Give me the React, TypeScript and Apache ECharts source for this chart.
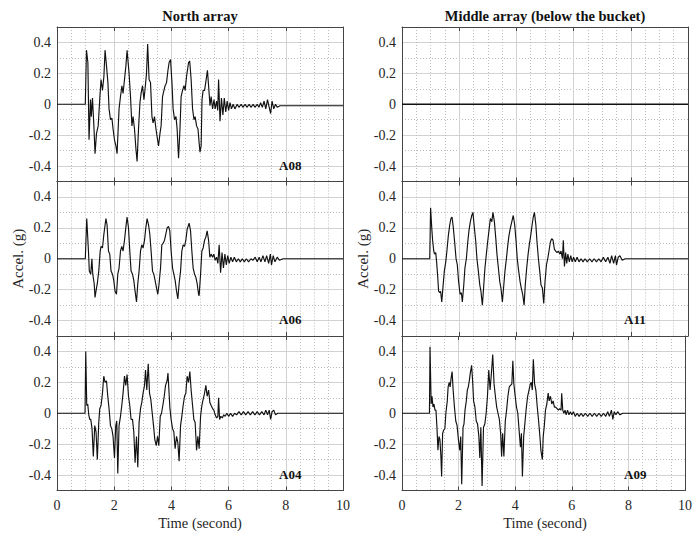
import { useEffect, useRef } from 'react';
import * as echarts from 'echarts';

const FONT = '"Liberation Serif", "Times New Roman", serif';

const columnTitles = ['North array', 'Middle array (below the bucket)'];
const xAxisTitle = 'Time (second)';
const yAxisTitle = 'Accel. (g)';

// top-right panel (no signal)
const MID_TOP: number[][] = [[0, 0], [10, 0]];

const A08: number[][] = [
  [0, 0], [0.99, 0], [1.03, 0.35], [1.08, 0.27], [1.12, -0.23], [1.17, 0.03], [1.2, -0.08], [1.24, 0.04],
  [1.29, -0.14], [1.33, -0.32], [1.38, -0.19], [1.44, -0.14], [1.5, 0.05], [1.54, 0.16], [1.59, 0.09],
  [1.64, 0.18], [1.68, 0.35], [1.73, 0.25], [1.78, 0.14], [1.82, -0.03], [1.87, -0.1], [1.92, -0.09],
  [1.96, -0.16], [2.01, -0.23], [2.06, -0.27], [2.1, -0.32], [2.17, -0.03], [2.22, 0.05], [2.27, 0.12],
  [2.31, 0.07], [2.36, 0.16], [2.41, 0.25], [2.45, 0.35], [2.52, 0.2], [2.57, 0.05], [2.62, -0.14],
  [2.66, -0.08], [2.71, -0.16], [2.76, -0.29], [2.8, -0.37], [2.85, -0.16], [2.9, 0.01], [2.94, 0.07],
  [2.99, 0.12], [3.04, 0.03], [3.08, 0.1], [3.13, 0.2], [3.17, 0.39], [3.22, 0.16], [3.27, 0.14],
  [3.32, -0.08], [3.36, -0.12], [3.41, -0.08], [3.46, -0.16], [3.5, -0.21], [3.55, -0.27], [3.6, -0.19],
  [3.64, -0.14], [3.69, 0.05], [3.74, 0.09], [3.78, 0.12], [3.83, 0.14], [3.88, 0.22], [3.92, 0.27],
  [3.97, 0.29], [4.02, 0.14], [4.06, -0.03], [4.11, -0.1], [4.16, -0.08], [4.2, -0.16], [4.25, -0.35],
  [4.3, -0.16], [4.34, 0.05], [4.39, 0.09], [4.44, 0.12], [4.48, 0.09], [4.53, 0.18], [4.6, 0.27],
  [4.64, 0.28], [4.69, 0.16], [4.74, -0.03], [4.79, -0.1], [4.83, -0.08], [4.88, -0.14], [4.93, -0.16],
  [4.97, -0.25], [5.0, -0.31], [5.04, -0.27], [5.07, 0.03], [5.11, 0.09], [5.16, 0.09], [5.2, 0.14],
  [5.26, 0.22], [5.3, 0.12], [5.35, -0.01], [5.39, 0.05], [5.44, -0.03], [5.49, 0.03], [5.53, -0.03],
  [5.58, 0.02], [5.62, -0.04], [5.65, 0.16], [5.7, -0.11], [5.75, 0.04], [5.8, -0.07], [5.85, 0.04],
  [5.9, -0.05], [5.95, 0.02], [6.0, -0.04], [6.05, 0.01], [6.1, -0.03], [6.16, 0.0], [6.22, -0.03],
  [6.3, 0.0], [6.36, -0.02], [6.44, 0.0], [6.5, -0.02], [6.58, 0.0], [6.64, -0.02], [6.72, 0.0],
  [6.78, -0.02], [6.86, 0.0], [6.92, -0.02], [7.0, 0.0], [7.06, -0.02], [7.12, 0.01], [7.18, -0.02],
  [7.24, 0.02], [7.3, -0.03], [7.36, 0.03], [7.42, -0.02], [7.47, -0.06], [7.52, 0.02], [7.58, -0.03],
  [7.64, 0.0], [7.7, -0.02], [7.8, -0.01], [7.9, -0.01], [10, -0.01],
];

const A06: number[][] = [
  [0, 0], [0.99, 0], [1.04, 0.26], [1.1, 0.05], [1.13, -0.08], [1.18, -0.1], [1.22, 0.0], [1.25, -0.1],
  [1.3, -0.16], [1.33, -0.25], [1.38, -0.19], [1.41, -0.16], [1.46, -0.08], [1.51, 0.05], [1.54, 0.08],
  [1.59, 0.07], [1.64, 0.16], [1.71, 0.26], [1.75, 0.22], [1.8, 0.05], [1.845, 0.03], [1.89, -0.08],
  [1.94, -0.1], [1.985, -0.14], [2.03, -0.21], [2.08, -0.23], [2.125, -0.1], [2.17, -0.06], [2.22, 0.05],
  [2.265, 0.08], [2.31, 0.05], [2.36, 0.12], [2.405, 0.2], [2.45, 0.27], [2.5, 0.2], [2.545, 0.05],
  [2.59, -0.08], [2.64, -0.1], [2.685, -0.14], [2.73, -0.21], [2.78, -0.28], [2.825, -0.16], [2.87, -0.08],
  [2.92, 0.05], [2.965, 0.09], [3.01, 0.07], [3.06, 0.12], [3.105, 0.2], [3.15, 0.26], [3.2, 0.22],
  [3.245, 0.16], [3.29, 0.05], [3.34, -0.08], [3.385, -0.1], [3.43, -0.14], [3.48, -0.19], [3.525, -0.23],
  [3.57, -0.16], [3.62, -0.06], [3.665, 0.09], [3.71, 0.1], [3.76, 0.12], [3.805, 0.16], [3.85, 0.2],
  [3.9, 0.21], [3.945, 0.18], [3.99, 0.05], [4.04, -0.06], [4.085, -0.1], [4.13, -0.14], [4.18, -0.21],
  [4.225, -0.26], [4.27, -0.16], [4.32, -0.08], [4.365, 0.05], [4.41, 0.09], [4.46, 0.08], [4.505, 0.12],
  [4.55, 0.19], [4.62, 0.23], [4.67, 0.18], [4.715, 0.05], [4.76, -0.06], [4.81, -0.1], [4.855, -0.12],
  [4.9, -0.16], [4.95, -0.23], [4.97, -0.24], [5.02, -0.1], [5.065, 0.05], [5.11, 0.07], [5.16, 0.12],
  [5.205, 0.14], [5.25, 0.18], [5.3, 0.12], [5.345, 0.01], [5.39, 0.03], [5.44, 0.01], [5.485, 0.03],
  [5.53, -0.01], [5.58, 0.01], [5.625, -0.03], [5.67, 0.09], [5.72, -0.09], [5.77, 0.04], [5.82, -0.06],
  [5.87, 0.03], [5.92, -0.04], [5.97, 0.02], [6.02, -0.03], [6.08, 0.01], [6.14, -0.02], [6.2, 0.01],
  [6.27, -0.02], [6.34, 0.0], [6.41, -0.02], [6.48, 0.0], [6.55, -0.02], [6.62, 0.0], [6.7, -0.02],
  [6.78, 0.0], [6.85, -0.01], [6.93, 0.01], [7.0, -0.02], [7.07, 0.01], [7.13, -0.02], [7.2, 0.02],
  [7.27, -0.02], [7.33, 0.02], [7.4, -0.03], [7.46, 0.03], [7.5, -0.04], [7.56, 0.02], [7.62, -0.02],
  [7.7, 0.01], [7.78, -0.01], [7.9, 0], [10, 0],
];

const A04: number[][] = [
  [0, 0], [0.98, 0], [1.005, 0.4], [1.04, 0.05], [1.075, 0.06], [1.11, -0.01], [1.145, -0.04], [1.18, -0.04],
  [1.225, -0.1], [1.27, -0.28], [1.32, -0.08], [1.365, -0.12], [1.41, -0.3], [1.46, -0.06], [1.495, 0.03],
  [1.54, 0.05], [1.59, 0.13], [1.635, 0.24], [1.68, 0.2], [1.73, 0.21], [1.775, 0.11], [1.82, 0.03],
  [1.87, -0.08], [1.915, -0.1], [1.96, -0.15], [2.01, -0.29], [2.055, -0.08], [2.09, -0.05], [2.125, -0.39],
  [2.17, -0.08], [2.22, -0.02], [2.265, 0.05], [2.31, 0.13], [2.36, 0.24], [2.405, 0.18], [2.45, 0.25],
  [2.5, 0.11], [2.545, 0.05], [2.59, -0.04], [2.64, -0.04], [2.685, -0.12], [2.73, -0.32], [2.78, -0.15],
  [2.825, -0.35], [2.87, -0.06], [2.92, 0.03], [2.965, 0.07], [3.01, 0.13], [3.06, 0.18], [3.095, 0.28],
  [3.14, 0.15], [3.19, 0.32], [3.235, 0.13], [3.28, 0.09], [3.33, 0.0], [3.375, -0.08], [3.42, -0.17],
  [3.47, -0.21], [3.515, -0.15], [3.56, -0.21], [3.61, -0.02], [3.655, 0.0], [3.7, 0.05], [3.75, 0.11],
  [3.795, 0.18], [3.85, 0.21], [3.88, 0.26], [3.945, 0.04], [3.99, -0.04], [4.04, -0.1], [4.085, -0.12],
  [4.13, -0.23], [4.18, -0.15], [4.225, -0.19], [4.27, -0.31], [4.32, -0.08], [4.365, -0.02], [4.41, 0.05],
  [4.46, 0.11], [4.505, 0.13], [4.55, 0.24], [4.6, 0.2], [4.645, 0.27], [4.69, 0.15], [4.74, 0.05],
  [4.785, -0.04], [4.83, -0.06], [4.88, -0.24], [4.925, -0.15], [4.97, -0.23], [5.02, -0.02], [5.065, 0.05],
  [5.11, 0.09], [5.16, 0.13], [5.205, 0.18], [5.25, 0.11], [5.3, 0.15], [5.345, 0.07], [5.39, 0.05],
  [5.44, 0.03], [5.485, 0.02], [5.53, -0.01], [5.58, -0.03], [5.625, -0.02], [5.65, 0.1], [5.685, -0.04],
  [5.73, -0.02], [5.78, -0.03], [5.83, -0.01], [5.88, -0.02], [5.94, 0.0], [6.0, -0.02], [6.07, 0.0],
  [6.14, -0.02], [6.21, 0.0], [6.28, -0.01], [6.36, 0.01], [6.44, -0.01], [6.52, 0.01], [6.6, -0.01],
  [6.68, 0.01], [6.76, -0.01], [6.84, 0.01], [6.92, -0.01], [7.0, 0.01], [7.08, -0.01], [7.16, 0.01],
  [7.24, -0.01], [7.3, 0.02], [7.36, -0.01], [7.42, 0.02], [7.47, -0.04], [7.52, 0.01], [7.58, 0.02],
  [7.64, -0.01], [7.72, 0.0], [7.85, 0], [10, 0],
];

const A11: number[][] = [
  [0, 0], [0.97, 0], [1.0, 0.33], [1.04, 0.2], [1.07, 0.12], [1.11, 0.05], [1.14, 0.03], [1.18, 0.04],
  [1.21, -0.02], [1.25, -0.12], [1.28, -0.21], [1.32, -0.22], [1.35, -0.21], [1.39, -0.28], [1.43, -0.19],
  [1.48, -0.08], [1.53, -0.02], [1.57, 0.05], [1.62, 0.15], [1.67, 0.22], [1.71, 0.26], [1.75, 0.27],
  [1.795, 0.2], [1.84, 0.11], [1.89, 0.0], [1.935, -0.04], [1.98, -0.15], [2.03, -0.23], [2.075, -0.22],
  [2.11, -0.28], [2.16, -0.17], [2.2, -0.06], [2.25, 0.0], [2.3, 0.11], [2.34, 0.18], [2.39, 0.24],
  [2.44, 0.28], [2.48, 0.3], [2.53, 0.2], [2.58, 0.11], [2.62, 0.0], [2.67, -0.08], [2.72, -0.17],
  [2.76, -0.21], [2.81, -0.3], [2.86, -0.17], [2.9, -0.06], [2.95, 0.03], [2.995, 0.11], [3.04, 0.18],
  [3.09, 0.26], [3.14, 0.24], [3.18, 0.3], [3.23, 0.24], [3.28, 0.13], [3.32, 0.03], [3.37, -0.06],
  [3.42, -0.15], [3.46, -0.19], [3.51, -0.28], [3.56, -0.17], [3.6, -0.08], [3.65, 0.0], [3.7, 0.09],
  [3.74, 0.15], [3.79, 0.2], [3.84, 0.24], [3.89, 0.28], [3.94, 0.22], [3.99, 0.11], [4.03, 0.0],
  [4.08, -0.08], [4.13, -0.15], [4.17, -0.19], [4.22, -0.23], [4.27, -0.3], [4.31, -0.17], [4.36, -0.06],
  [4.41, 0.03], [4.45, 0.09], [4.5, 0.15], [4.55, 0.22], [4.59, 0.27], [4.63, 0.3], [4.68, 0.22],
  [4.72, 0.11], [4.77, 0.0], [4.815, -0.08], [4.86, -0.17], [4.91, -0.19], [4.955, -0.29], [5.0, -0.15],
  [5.05, -0.04], [5.095, 0.0], [5.14, 0.05], [5.19, 0.11], [5.235, 0.13], [5.28, 0.12], [5.33, 0.06],
  [5.375, 0.05], [5.42, 0.04], [5.47, 0.05], [5.515, 0.03], [5.56, 0.05], [5.61, 0.0], [5.64, 0.12],
  [5.68, -0.05], [5.72, 0.04], [5.76, -0.03], [5.8, 0.03], [5.85, -0.02], [5.9, 0.02], [5.95, -0.02],
  [6.0, 0.01], [6.06, -0.02], [6.12, 0.01], [6.19, -0.02], [6.26, 0.0], [6.33, -0.02], [6.4, 0.0],
  [6.48, -0.02], [6.56, 0.0], [6.64, -0.02], [6.72, 0.0], [6.8, -0.02], [6.88, 0.0], [6.96, -0.02],
  [7.04, 0.01], [7.12, -0.02], [7.2, 0.01], [7.27, -0.03], [7.33, 0.02], [7.4, -0.03], [7.46, 0.02],
  [7.5, -0.04], [7.56, 0.01], [7.62, 0.02], [7.7, -0.01], [7.8, 0.0], [7.9, 0], [10, 0],
];

const A09: number[][] = [
  [0, 0], [0.97, 0], [0.99, 0.43], [1.03, 0.06], [1.06, 0.11], [1.095, 0.04], [1.13, 0.06], [1.165, 0.02],
  [1.2, 0.02], [1.235, -0.09], [1.27, -0.24], [1.305, -0.15], [1.34, -0.17], [1.375, -0.28], [1.4, -0.41],
  [1.435, -0.13], [1.47, -0.11], [1.515, -0.1], [1.55, 0.0], [1.6, 0.08], [1.63, 0.17], [1.67, 0.2],
  [1.7, 0.17], [1.737, 0.23], [1.77, 0.27], [1.807, 0.15], [1.853, 0.04], [1.9, -0.05], [1.947, -0.08],
  [1.993, -0.17], [2.04, -0.24], [2.075, -0.15], [2.11, -0.46], [2.157, -0.09], [2.19, -0.07], [2.227, 0.02],
  [2.273, 0.08], [2.308, 0.15], [2.343, 0.17], [2.378, 0.21], [2.413, 0.26], [2.46, 0.31], [2.495, 0.21],
  [2.53, 0.08], [2.576, 0.04], [2.623, -0.05], [2.67, -0.07], [2.716, -0.15], [2.75, -0.29], [2.786, -0.09],
  [2.83, -0.47], [2.88, -0.09], [2.926, -0.07], [2.973, 0.0], [3.02, 0.11], [3.066, 0.28], [3.113, 0.15],
  [3.16, 0.26], [3.206, 0.38], [3.253, 0.19], [3.3, 0.11], [3.346, 0.04], [3.392, 0.0], [3.44, -0.04],
  [3.486, -0.13], [3.52, -0.28], [3.556, -0.13], [3.6, -0.28], [3.65, -0.05], [3.696, 0.02], [3.742, 0.11],
  [3.79, 0.17], [3.836, 0.18], [3.882, 0.19], [3.917, 0.34], [3.952, 0.19], [4.0, 0.11], [4.045, 0.04],
  [4.092, 0.0], [4.138, -0.11], [4.185, -0.22], [4.22, -0.13], [4.255, -0.41], [4.3, -0.15], [4.35, -0.05],
  [4.395, 0.04], [4.44, 0.11], [4.488, 0.15], [4.535, 0.19], [4.57, 0.2], [4.605, 0.15], [4.64, 0.35],
  [4.686, 0.19], [4.73, 0.15], [4.78, 0.04], [4.827, -0.05], [4.873, -0.15], [4.908, -0.24], [4.96, -0.3],
  [4.99, -0.15], [5.025, -0.09], [5.07, 0.02], [5.118, 0.06], [5.165, 0.13], [5.2, 0.08], [5.246, 0.11],
  [5.293, 0.06], [5.34, 0.08], [5.386, 0.04], [5.43, 0.04], [5.48, 0.03], [5.526, 0.02], [5.57, 0.03],
  [5.62, 0.02], [5.643, 0.13], [5.68, 0.02], [5.72, 0.0], [5.76, 0.02], [5.8, -0.01], [5.85, 0.02],
  [5.9, -0.01], [5.95, 0.01], [6.0, -0.01], [6.06, 0.01], [6.12, -0.02], [6.19, 0.0], [6.26, -0.02],
  [6.33, 0.0], [6.4, -0.02], [6.48, 0.0], [6.56, -0.02], [6.64, 0.0], [6.72, -0.02], [6.8, 0.0],
  [6.88, -0.02], [6.96, 0.0], [7.04, -0.02], [7.12, 0.0], [7.2, -0.02], [7.27, 0.01], [7.33, -0.02],
  [7.4, 0.02], [7.45, -0.04], [7.5, 0.01], [7.56, -0.01], [7.62, 0.01], [7.7, -0.01], [7.8, 0], [10, 0],
];

const panelLabels = ['A08', 'A06', 'A04', '', 'A11', 'A09'];
const panelData = [A08, A06, A04, MID_TOP, A11, A09];

// layout (pixels)
const COL_LEFT = [57, 402];
const COL_W = 286;
const ROW_TOP = [27, 181.5, 336];
const ROW_H = 154.5;

const BORDER = '#454545';
const MAJOR = '#d2d2d2';
const MINOR = '#bdbdbd';
const TEXT = '#262626';

function yLabel(v: number): string {
  const k = Math.round(v * 10);
  if (Math.abs(k) >= 5 || k % 2 !== 0) return '';
  return k === 0 ? '0' : String(k / 10);
}

function buildOption() {
  const grid: any[] = [];
  const xAxis: any[] = [];
  const yAxis: any[] = [];
  const series: any[] = [];
  const graphic: any[] = [];

  for (let i = 0; i < 6; i++) {
    const col = Math.floor(i / 3);
    const row = i % 3;
    grid.push({ left: COL_LEFT[col], top: ROW_TOP[row], width: COL_W, height: ROW_H, show: false });
    const xBase = {
      gridIndex: i, type: 'value', min: 0, max: 10, interval: 2, z: 3,
      axisLine: { show: true, onZero: false, lineStyle: { color: BORDER, width: 1 } },
      axisTick: { show: true, inside: true, length: 4, lineStyle: { color: BORDER } },
    };
    xAxis.push({
      ...xBase, position: 'bottom',
      axisLabel: { show: row === 2, margin: 8, fontFamily: FONT, fontSize: 14, color: TEXT },
      splitLine: { show: true, showMinLine: false, showMaxLine: false, lineStyle: { color: MAJOR, width: 1 } },
      minorTick: { show: false, splitNumber: 4 },
      minorSplitLine: { show: true, lineStyle: { color: MINOR, width: 1, type: [1, 2] } },
    });
    xAxis.push({
      ...xBase, position: 'top',
      axisLabel: { show: false }, splitLine: { show: false },
    });
    const yBase = {
      gridIndex: i, type: 'value', min: -0.5, max: 0.5, interval: 0.1, z: 1,
      axisLine: { show: true, onZero: false, lineStyle: { color: BORDER, width: 1 } },
      axisTick: { show: false },
    };
    yAxis.push({
      ...yBase, position: 'left',
      axisLabel: { show: true, formatter: yLabel, margin: 6, fontFamily: FONT, fontSize: 14, color: TEXT },
      splitLine: { show: true, lineStyle: { color: ['rgba(0,0,0,0)', MAJOR], width: 1 } },
    });
    yAxis.push({
      ...yBase, position: 'right',
      axisLabel: { show: false },
      splitLine: { show: true, lineStyle: { color: [MINOR, 'rgba(0,0,0,0)'], width: 1, type: [1, 2] } },
    });
    series.push({
      type: 'line', xAxisIndex: 2 * i, yAxisIndex: 2 * i, data: panelData[i],
      showSymbol: false, symbol: 'none', z: 5, silent: true,
      lineStyle: { color: '#111', width: i === 3 ? 1.6 : 1.15 },
    });
    if (panelLabels[i]) {
      graphic.push({
        type: 'text', x: COL_LEFT[col] + 222, y: ROW_TOP[row] + 138, z: 100,
        style: {
          text: panelLabels[i], font: `bold 13px ${FONT}`, fill: '#111',
          align: 'left', verticalAlign: 'middle', textAlign: 'left', textVerticalAlign: 'middle',
        },
      });
    }
  }

  for (let c = 0; c < 2; c++) {
    const cx = COL_LEFT[c] + COL_W / 2;
    graphic.push({
      type: 'text', x: cx, y: 16, z: 100,
      style: { text: columnTitles[c], font: `bold 14.5px ${FONT}`, fill: '#111', align: 'center', verticalAlign: 'middle', textAlign: 'center', textVerticalAlign: 'middle' },
    });
    graphic.push({
      type: 'text', x: cx, y: 523, z: 100,
      style: { text: xAxisTitle, font: `14.5px ${FONT}`, fill: TEXT, align: 'center', verticalAlign: 'middle', textAlign: 'center', textVerticalAlign: 'middle' },
    });
    graphic.push({
      type: 'text', x: COL_LEFT[c] - 39, y: ROW_TOP[1] + ROW_H / 2, rotation: Math.PI / 2, z: 100,
      style: { text: yAxisTitle, font: `15px ${FONT}`, fill: TEXT, align: 'center', verticalAlign: 'middle', textAlign: 'center', textVerticalAlign: 'middle' },
    });
  }

  return { animation: false, backgroundColor: '#ffffff', grid, xAxis, yAxis, series, graphic };
}

export default function App() {
  const ref = useRef<HTMLDivElement>(null);
  useEffect(() => {
    if (!ref.current) return;
    const chart = echarts.init(ref.current, undefined, { renderer: 'svg' });
    chart.setOption(buildOption() as any);
    return () => chart.dispose();
  }, []);
  return (
    <div
      ref={ref}
      style={{ position: 'fixed', left: 0, top: 0, width: 695, height: 534, background: '#fff' }}
    />
  );
}
